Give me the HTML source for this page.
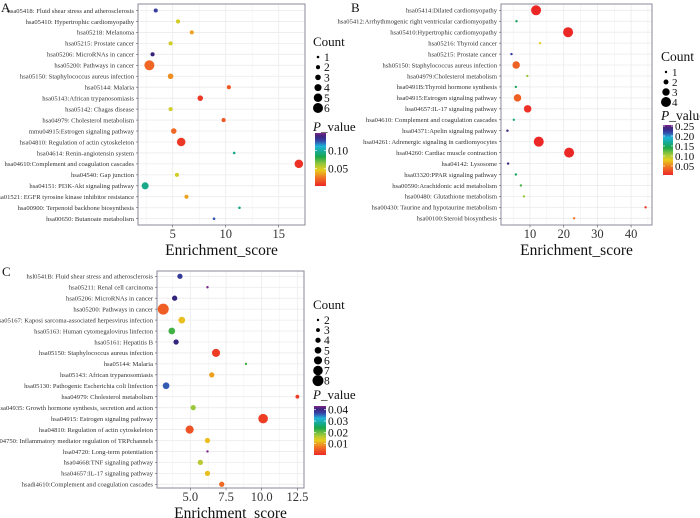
<!DOCTYPE html>
<html><head><meta charset="utf-8">
<style>
body{margin:0;background:#fff;}
svg{display:block;font-family:"Liberation Serif",serif;}
</style></head>
<body>
<svg id="fig" width="700" height="518" viewBox="0 0 700 518"></svg>
<script>
// ---- Panel A data ----
const aLabels=["hsa05418: Fluid shear stress and atherosclerosis","hsa05410: Hypertrophic cardiomyopathy","hsa05218: Melanoma","hsa05215: Prostate cancer","hsa05206: MicroRNAs in cancer","hsa05200: Pathways in cancer","hsa05150: Staphylococcus aureus infection","hsa05144: Malaria","hsa05143:African trypanosomiasis","hsa05142: Chagas disease","hsa04979: Cholesterol metabolism","mmu04915:Estrogen signaling pathway","hsa04810: Regulation of actin cytoskeleton","hsa04614: Renin-angiotensin system","hsa04610:Complement and coagulation cascades","hsa04540: Gap junction","hsa04151: PI3K-Akt signaling pathway","hsa01521: EGFR tyrosine kinase inhibitor resistance","hsa00900: Terpenoid backbone biosynthesis","hsa00650: Butanoate metabolism"];
const aScores=[3.4,5.5,6.8,4.8,3.1,2.8,4.8,10.3,7.6,4.8,9.8,5.1,5.8,10.8,16.9,5.4,2.4,6.3,11.3,8.9];
const aCounts=[2,2,2,2,2,6,3,2,3,2,2,3,5,1,5,2,4,2,1,1];
const aPvals=[0.13,0.05,0.035,0.05,0.14,0.02,0.03,0.015,0.005,0.05,0.015,0.02,0.005,0.095,0.003,0.05,0.095,0.035,0.095,0.125];
const aTicks=[5,10,15];
const aCountLegend=[1,2,3,4,5,6];
const aPTicks=[0.10,0.05];
// ---- Panel B data ----
const bLabels=["hsa05414:Dilated cardiomyopathy","hsa05412:Arrhythmogenic right ventricular cardiomyopathy","hsa05410:Hypertrophic cardiomyopathy","hsa05216: Thyroid cancer","hsa05215: Prostate cancer","hsh05150: Staphylococcus aureus infection","hsa04979:Cholesterol metabolism","hsa0491B:Thyroid hormone synthesis","hsa04915:Estrogen signaling pathway","hsa04657:IL-17 signaling pathway","hsa04610: Complement and coagulation cascades","hsa04371:Apelin signaling pathway","hsa04261: Adrenergic signaling in cardiomyocytes","hsa04260: Cardiac muscle contraction","hsa04142: Lysosome","hsa03320:PPAR signaling pathway","hsa00590:Arachidonic acid metabolism","hsa00480: Glutathione metabolism","hsa00430: Taurine and hypotaurine metabolism","hsa00100:Steroid biosynthesis"];
const bScores=[11.8,6.0,21.3,13.0,4.5,5.9,9.2,5.8,6.3,9.3,5.2,3.3,12.6,21.6,3.5,5.8,7.3,8.2,44.3,23.1];
const bCounts=[4,1,4,1,1,3,1,1,3,3,1,1,4,4,1,1,1,1,1,1];
const bPvals=[0.005,0.15,0.005,0.08,0.22,0.035,0.11,0.15,0.035,0.01,0.16,0.24,0.005,0.005,0.24,0.15,0.13,0.11,0.012,0.045];
const bTicks=[10,20,30,40];
const bCountLegend=[1,2,3,4];
const bPTicks=[0.25,0.20,0.15,0.10,0.05];
// ---- Panel C data ----
const cLabels=["hsl0541B: Fluid shear stress and atherosclerosis","hsa05211: Renal cell carcinoma","hsa05206: MicroRNAs in cancer","hsa05200: Pathways in cancer","hsa05167: Kaposi sarcoma-associated herpesvirus infection","hsa05163: Human cytomegalovirus linfecton","hsa05161: Hepatitis B","hsa05150: Staphylococcus aureus infection","hsa05144: Malaria","hsa05143: African trypanosomiasis","hsa05130: Pathogenic Escherichia coli linfection","hsa04979: Cholesterol metabolism","hsa04935: Growth hormone synthesis, secretion and action","hsa04915: Estrogen signaling pathway","hsa04810: Regulation of actin cytoskeleton","hsa04750: Inflammatory mediator regulation of TRPchannels","hsa04720: Long-term potentiation","hsa04668:TNF signaling pathway","hsa04657:IL-17 signaling pathway","hsadi4610:Complement and coagulation cascades"];
const cScores=[4.27,6.2,3.9,3.1,4.4,3.7,4.0,6.8,8.9,6.5,3.3,12.5,5.2,10.1,4.95,6.2,6.2,5.7,6.2,7.2];
const cCounts=[4,2,4,8,5,5,4,6,2,4,5,3,4,7,6,4,2,4,4,4];
const cPvals=[0.038,0.043,0.04,0.005,0.012,0.022,0.04,0.002,0.022,0.01,0.036,0.002,0.018,0.002,0.004,0.012,0.045,0.016,0.012,0.006];
const cTicks=[5.0,7.5,10.0,12.5];
const cCountLegend=[2,3,4,5,6,7,8];
const cPTicks=[0.04,0.03,0.02,0.01];

const NS="http://www.w3.org/2000/svg";
const svg=document.getElementById('fig');
function mk(tag,attrs,parent){const e=document.createElementNS(NS,tag);for(const k in attrs)e.setAttribute(k,attrs[k]);(parent||svg).appendChild(e);return e;}
const stops=[[0,[236,40,38]],[0.15,[240,110,36]],[0.3,[232,205,30]],[0.42,[150,200,60]],[0.55,[26,166,74]],[0.65,[23,170,150]],[0.75,[31,180,216]],[0.85,[55,70,170]],[0.93,[50,35,120]],[1,[125,40,140]]];
function cmap(t){t=Math.max(0,Math.min(1,t));for(let i=1;i<stops.length;i++){if(t<=stops[i][0]){const a=stops[i-1],b=stops[i];const f=(t-a[0])/(b[0]-a[0]);const c=a[1].map((v,j)=>Math.round(v+(b[1][j]-v)*f));return `rgb(${c})`;}}return 'rgb(125,40,140)';}
let gid=0;
function panel(o){
  const g=mk('g',{});
  
  
  const L=o.rect[0],T=o.rect[1],R=o.rect[2],B=o.rect[3];
  const xs=v=>o.x0+v*o.xk;
  const n=o.labels.length;
  const ys=i=>o.y0+i*(o.y1-o.y0)/(n-1);
  mk('rect',{x:L,y:T,width:R-L,height:B-T,fill:'#fff'},g);
  const step=o.ticks[1]-o.ticks[0];
  for(let v=o.ticks[0]-step*2;v<=o.ticks[o.ticks.length-1]+step*2;v+=step/2){const x=xs(v);if(x>L&&x<R){mk('line',{x1:x,x2:x,y1:T,y2:B,stroke:'#ebebeb','stroke-width':(Math.abs((v-o.ticks[0])/step%1)<1e-6?0.8:0.4)},g);}}
  for(let i=0;i<n;i++){mk('line',{x1:L,x2:R,y1:ys(i),y2:ys(i),stroke:'#ebebeb','stroke-width':0.8},g);}
  mk('rect',{x:L,y:T,width:R-L,height:B-T,fill:'none',stroke:'#8a8a9a','stroke-width':1},g);
  o.labels.forEach((s,i)=>{
    const t=mk('text',{x:L-4,y:ys(i)+2.3,'font-size':6.6,'text-anchor':'end',fill:'#333'},g);t.textContent=s;
    
    
    mk('line',{x1:L-2,x2:L,y1:ys(i),y2:ys(i),stroke:'#555','stroke-width':0.6},g);
  });
  o.ticks.forEach(v=>{
    mk('line',{x1:xs(v),x2:xs(v),y1:B,y2:B+2.5,stroke:'#555','stroke-width':0.6},g);
    const t=mk('text',{x:xs(v),y:B+13,'font-size':12.5,'text-anchor':'middle',fill:'#333'},g);t.textContent=o.tickFmt(v);
    
    
  });
  const xt=mk('text',{x:(L+R)/2,y:B+30,'font-size':15.5,'text-anchor':'middle',fill:'#111'},g);xt.textContent='Enrichment_score';
  
  
  const cmin=o.cl[0],cmax=o.cl[o.cl.length-1];
  const rad=c=>o.rmin+(o.rmax-o.rmin)*(c-cmin)/(cmax-cmin);
  o.scores.forEach((v,i)=>{
    const c=mk('circle',{cx:xs(v),cy:ys(i),r:rad(o.counts[i]),fill:cmap((o.pvals[i]-o.pmin)/(o.pmax-o.pmin))},g);
    
    
  });
  const pl=mk('text',{x:o.letter[0],y:o.letter[1],'font-size':13,fill:'#111'},g);pl.textContent=o.letterText;
  
  
  const ct=mk('text',{x:o.lx-5,y:o.countY,'font-size':o.tfs,fill:'#111'},g);ct.textContent='Count';
  
  
  o.cl.forEach((c,i)=>{
    const y=o.countY+11+i*o.cstep;
    mk('circle',{cx:o.lx,cy:y,r:rad(c),fill:'#000'},g);
    const t=mk('text',{x:o.lx+6,y:y+4,'font-size':o.efs,fill:'#111'},g);t.textContent=c;
    
    
  });
  const pt=mk('text',{x:o.lx-5,y:o.pY,'font-size':o.tfs,fill:'#111'},g);
  pt.innerHTML='<tspan font-style="italic">P</tspan>_value';
  
  
  const id='grad'+(gid++);
  const defs=mk('defs',{},g);const lg=mk('linearGradient',{id:id,x1:0,y1:1,x2:0,y2:0},defs);
  for(let k=0;k<=20;k++)mk('stop',{offset:k/20,'stop-color':cmap(k/20)},lg);
  const bar=mk('rect',{x:o.bar[0],y:o.bar[1],width:o.bar[2],height:o.bar[3],fill:`url(#${id})`},g);
  
  
  o.pticks.forEach(p=>{
    const y=o.bar[1]+o.bar[3]*(1-(p-o.pmin)/(o.pmax-o.pmin));
    mk('line',{x1:o.bar[0],x2:o.bar[0]+2,y1:y,y2:y,stroke:'#fff','stroke-width':0.6},g);
    mk('line',{x1:o.bar[0]+o.bar[2]-2,x2:o.bar[0]+o.bar[2],y1:y,y2:y,stroke:'#fff','stroke-width':0.6},g);
    const t=mk('text',{x:o.bar[0]+o.bar[2]+2,y:y+4,'font-size':o.efs,fill:'#111'},g);t.textContent=p.toFixed(2);
    
    
  });
}
panel({name:'panel-a',letterText:'A',letter:[1,12],rect:[138,4,305,225],x0:119.7,xk:10.6,y0:10.5,y1:218.7,labels:aLabels,scores:aScores,counts:aCounts,pvals:aPvals,ticks:aTicks,tickFmt:v=>String(v),rmin:1.3,rmax:5,cl:aCountLegend,lx:318,countY:46,cstep:10.2,pY:131,bar:[315,133,11,53],pmin:0,pmax:0.15,pticks:aPTicks,tfs:13,efs:11.5});
panel({name:'panel-b',letterText:'B',letter:[351,12],rect:[501,4,652,225],x0:496.3,xk:3.37,y0:10.3,y1:218.3,labels:bLabels,scores:bScores,counts:bCounts,pvals:bPvals,ticks:bTicks,tickFmt:v=>String(v),rmin:1.2,rmax:5,cl:bCountLegend,lx:666,countY:61,cstep:10,pY:120,bar:[663,125,10,50],pmin:0.005,pmax:0.255,pticks:bPTicks,tfs:13.5,efs:11});
panel({name:'panel-c',letterText:'C',letter:[2,276],rect:[157,271,304,488],x0:119,xk:14.27,y0:276.3,y1:484.3,labels:cLabels,scores:cScores,counts:cCounts,pvals:cPvals,ticks:cTicks,tickFmt:v=>v.toFixed(1),rmin:1.2,rmax:5.5,cl:cCountLegend,lx:318,countY:309,cstep:10.1,pY:399,bar:[314,406,12,49],pmin:0,pmax:0.0433,pticks:cPTicks,tfs:13,efs:11.5});
</script>
</body></html>
